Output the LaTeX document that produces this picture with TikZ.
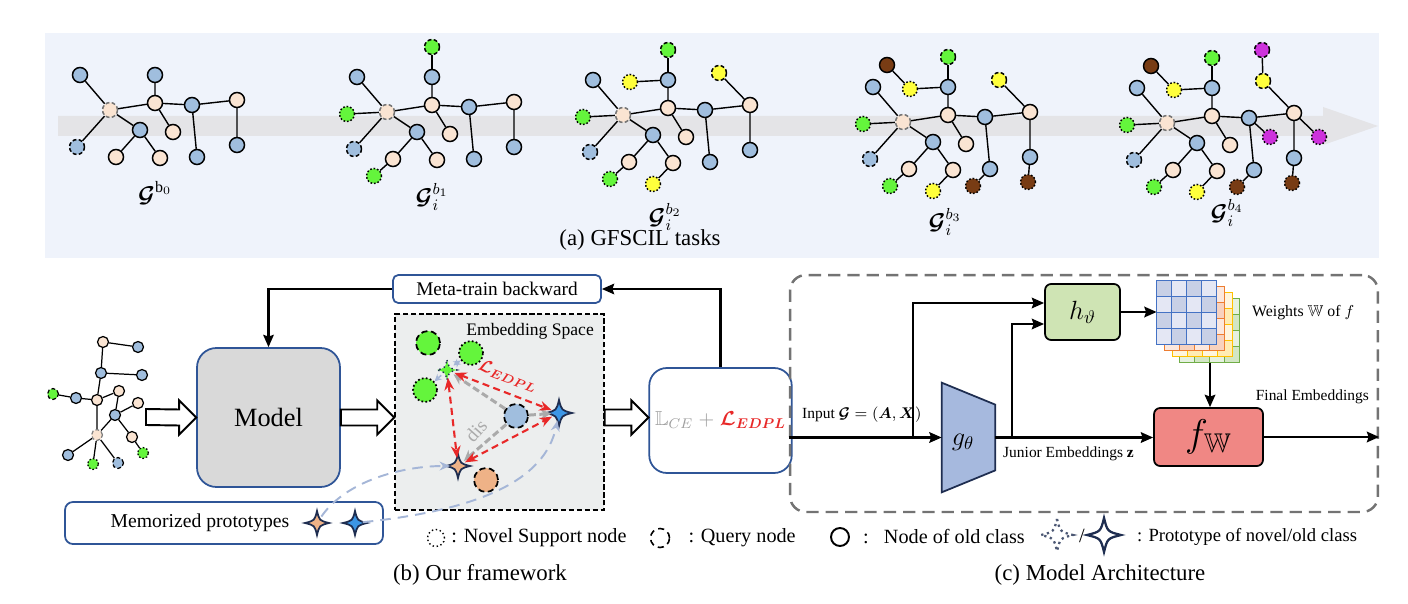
\RequirePackage{fix-cm}
\documentclass[tikz,border=0pt]{standalone}
\usepackage{amsmath,amssymb,bm}
\usepackage{fontspec}
\setmainfont{Liberation Serif}
\usetikzlibrary{calc,arrows.meta}

\definecolor{nodeblue}{RGB}{160,190,222}
\definecolor{nodepeach}{RGB}{250,228,210}
\definecolor{novgreen}{RGB}{100,245,60}
\definecolor{novyellow}{RGB}{255,255,60}
\definecolor{novbrown}{RGB}{120,60,20}
\definecolor{novpurple}{RGB}{205,50,220}
\definecolor{panelbg}{RGB}{239,243,251}
\definecolor{bandgray}{RGB}{228,228,231}
\definecolor{boxblue}{RGB}{47,85,151}
\definecolor{modelgray}{RGB}{217,217,217}
\definecolor{embgray}{RGB}{236,238,238}
\definecolor{edplred}{RGB}{232,40,40}
\definecolor{disgray}{RGB}{170,170,170}
\definecolor{memblue}{RGB}{165,182,215}
\definecolor{gblue}{RGB}{166,185,222}
\definecolor{hgreen}{RGB}{207,228,180}
\definecolor{fred}{RGB}{240,135,132}
\definecolor{protopeach}{RGB}{238,178,135}
\definecolor{protoblue}{RGB}{60,150,230}
\definecolor{protonavy}{RGB}{30,45,80}
\definecolor{wbline}{RGB}{68,114,196}
\definecolor{wbdark}{RGB}{200,208,230}
\definecolor{wblight}{RGB}{228,231,244}
\definecolor{woline}{RGB}{237,125,49}
\definecolor{wodark}{RGB}{248,210,190}
\definecolor{wolight}{RGB}{252,232,222}
\definecolor{wyline}{RGB}{255,192,0}
\definecolor{wydark}{RGB}{255,236,180}
\definecolor{wylight}{RGB}{255,245,222}
\definecolor{wgline}{RGB}{112,173,71}
\definecolor{wgdark}{RGB}{210,230,196}
\definecolor{wglight}{RGB}{230,241,224}

\tikzset{
  gnode/.style={circle, draw=black, line width=0.85pt, inner sep=0pt, minimum size=0.3cm},
  snode/.style={gnode, line width=0.7pt, minimum size=0.22cm},
  embc/.style={circle, draw=black, line width=1pt, inner sep=0pt, minimum size=0.48cm},
  proto/.style={circle, inner sep=0pt, minimum size=0.3cm},
  sup/.style={dash pattern=on 0.9pt off 1.1pt},
  qry/.style={dash pattern=on 2.2pt off 1.3pt},
  embs/.style={dash pattern=on 1pt off 1.3pt},
  embq/.style={dash pattern=on 3.5pt off 2pt},
  gedge/.style={line width=0.8pt},
  bluebox/.style={draw=boxblue, line width=1pt, fill=white},
  thinarr/.style={draw=memblue, line width=0.9pt, >={Stealth[length=4pt,width=4pt]}},
  grayarr/.style={draw=disgray, line width=1.7pt, dash pattern=on 4pt off 2pt, >={Stealth[length=6pt,width=6pt]}},
  redarr/.style={draw=edplred, line width=1.2pt, dash pattern=on 4pt off 2.5pt, >={Stealth[length=7pt,width=5.5pt]}},
  memarr/.style={draw=memblue, line width=1.1pt, dash pattern=on 6pt off 4pt, >={Stealth[length=6pt,width=5pt]}},
  archarr/.style={line width=1.4pt},
  glabel/.style={font=\fontsize{13}{15}\selectfont},
  lgd/.style={font=\fontsize{11.5}{13}\selectfont},
  capt/.style={font=\fontsize{13}{15}\selectfont}
}

\newcommand{\basegraph}[1]{%
  \node[gnode, fill=nodepeach, qry, draw=black!55] (#1c) at (0,0) {};
  \node[gnode, fill=nodeblue] (#1A) at (-30,-35) {};
  \node[gnode, fill=nodeblue] (#1B) at (45,-35) {};
  \node[gnode, fill=nodepeach] (#1C) at (45,-7) {};
  \node[gnode, fill=nodeblue] (#1D) at (82,-5) {};
  \node[gnode, fill=nodepeach] (#1E) at (127,-10) {};
  \node[gnode, fill=nodeblue] (#1F) at (30,20) {};
  \node[gnode, fill=nodepeach] (#1G) at (63,22) {};
  \node[gnode, fill=nodeblue, qry] (#1H) at (-33,37) {};
  \node[gnode, fill=nodepeach] (#1I) at (6,47) {};
  \node[gnode, fill=nodepeach] (#1J) at (50,48) {};
  \node[gnode, fill=nodeblue] (#1K) at (87,47) {};
  \node[gnode, fill=nodeblue] (#1L) at (127,35) {};
  \draw[gedge] (#1c)--(#1A) (#1c)--(#1C) (#1c)--(#1F) (#1c)--(#1H) (#1B)--(#1C) (#1C)--(#1D)
    (#1C)--(#1G) (#1D)--(#1E) (#1D)--(#1K) (#1E)--(#1L) (#1F)--(#1I) (#1F)--(#1J);
}
\newcommand{\leaf}[4]{\node[gnode, #1] (#2) at (#3) {}; \draw[gedge] (#2) -- (#4);}
\newcommand{\protostar}[3]{%
  \draw[#3, shift={(#1)}] (0,-#2) .. controls (0.2*#2,-0.2*#2) .. (#2,0) .. controls (0.2*#2,0.2*#2) .. (0,#2)
    .. controls (-0.2*#2,0.2*#2) .. (-#2,0) .. controls (-0.2*#2,-0.2*#2) .. (0,-#2) -- cycle;}
\newcommand{\hollowarrow}[2]{%
  \draw[line width=1.1pt, fill=white] ($(#1)+(0,-8)$) -- ($(#2)+(-17,-8)$) -- ($(#2)+(-17,-17)$) -- (#2)
    -- ($(#2)+(-17,17)$) -- ($(#2)+(-17,8)$) -- ($(#1)+(0,8)$) -- cycle;}
\newcommand{\wgrid}[5]{%
  \node[minimum width=1.2cm, minimum height=1.28cm, inner sep=0pt] (#1) at (#2) {};
  \foreach \i in {0,...,3} \foreach \j in {0,...,3} {
    \pgfmathtruncatemacro\k{mod(\i+\j,2)}
    \ifnum\k=0 \def\cellc{#4}\else\def\cellc{#5}\fi
    \filldraw[fill=\cellc, draw=#3, line width=0.9pt] ($(#1.north west)+(15*\i,16*\j)$) rectangle +(15,16);
  }
}

\begin{document}
\begin{tikzpicture}[x=0.02cm, y=-0.02cm, >={Stealth[length=7pt,width=6pt,inset=1pt]}]
\useasboundingbox (0,0) rectangle (1408,604);

\fill[panelbg] (45,33) rectangle (1379,258);
\fill[bandgray] (58,116) -- (1323,116) -- (1323,107) -- (1378,126) -- (1323,145) -- (1323,136) -- (58,136) -- cycle;

\begin{scope}[shift={(110,110)}]
  \basegraph{a}
  \node[glabel] (alab) at (45,83) {$\boldsymbol{\mathcal{G}}^{\mathrm{b}_0}$};
\end{scope}

\begin{scope}[shift={(387,112)}]
  \basegraph{b}
  \leaf{fill=novgreen, qry}{bq1}{45,-65}{bB}
  \leaf{fill=novgreen, sup}{bs1}{-40,2}{bc}
  \leaf{fill=novgreen, sup}{bs2}{-13,64}{bI}
  \node[glabel] (blab) at (45,85) {$\boldsymbol{\mathcal{G}}_i^{b_1}$};
\end{scope}

\begin{scope}[shift={(623,115)}]
  \basegraph{c}
  \leaf{fill=novgreen, qry}{cq1}{45,-65}{cB}
  \leaf{fill=novgreen, sup}{cs1}{-40,2}{cc}
  \leaf{fill=novgreen, sup}{cs2}{-13,64}{cI}
  \leaf{fill=novyellow, sup}{cs3}{7,-33}{cB}
  \leaf{fill=novyellow, qry}{cq2}{96,-42}{cE}
  \leaf{fill=novyellow, sup}{cs4}{30,69}{cJ}
  \node[glabel] (clab) at (42,102) {$\boldsymbol{\mathcal{G}}_i^{b_2}$};
\end{scope}

\begin{scope}[shift={(903,122)}]
  \basegraph{d}
  \leaf{fill=novgreen, qry}{dq1}{45,-65}{dB}
  \leaf{fill=novgreen, sup}{ds1}{-40,2}{dc}
  \leaf{fill=novgreen, sup}{ds2}{-13,64}{dI}
  \leaf{fill=novyellow, sup}{ds3}{7,-33}{dB}
  \leaf{fill=novyellow, qry}{dq2}{96,-42}{dE}
  \leaf{fill=novyellow, sup}{ds4}{30,69}{dJ}
  \leaf{fill=novbrown}{dq3}{-16,-57}{ds3}
  \leaf{fill=novbrown, sup}{ds5}{70,64}{dK}
  \leaf{fill=novbrown, sup}{ds6}{125,60}{dL}
  \node[glabel] (dlab) at (42,100) {$\boldsymbol{\mathcal{G}}_i^{b_3}$};
\end{scope}

\begin{scope}[shift={(1167,123)}]
  \basegraph{e}
  \leaf{fill=novgreen, qry}{eq1}{45,-65}{eB}
  \leaf{fill=novgreen, sup}{es1}{-40,2}{ec}
  \leaf{fill=novgreen, sup}{es2}{-13,64}{eI}
  \leaf{fill=novyellow, sup}{es3}{7,-33}{eB}
  \leaf{fill=novyellow, qry}{eq2}{96,-42}{eE}
  \leaf{fill=novyellow, sup}{es4}{30,69}{eJ}
  \leaf{fill=novbrown}{eq3}{-16,-57}{es3}
  \leaf{fill=novbrown, sup}{es5}{70,64}{eK}
  \leaf{fill=novbrown, sup}{es6}{125,60}{eL}
  \leaf{fill=novpurple, qry}{eq4}{95,-73}{eq2}
  \leaf{fill=novpurple, sup}{es7}{103,14}{eD}
  \leaf{fill=novpurple, sup}{es8}{152,14}{eE}
  \node[glabel] (elab) at (60,90) {$\boldsymbol{\mathcal{G}}_i^{b_4}$};
\end{scope}

\node[capt] (capa) at (640,240) {(a) GFSCIL tasks};

\node[snode, fill=nodepeach] (sp1) at (103,342) {};
\node[snode, fill=nodeblue] (sb1) at (138,347) {};
\node[snode, fill=nodeblue] (sb2) at (101,373) {};
\node[snode, fill=nodeblue] (sb3) at (142,375) {};
\node[snode, fill=novgreen, qry] (sg1) at (53,394) {};
\node[snode, fill=nodeblue] (sb4) at (76,398) {};
\node[snode, fill=nodepeach] (sp2) at (97,400) {};
\node[snode, fill=nodepeach] (sp3) at (119,391) {};
\node[snode, fill=nodepeach] (sp4) at (138,403) {};
\node[snode, fill=nodeblue] (sb5) at (115,415) {};
\node[snode, fill=nodepeach] (sp5) at (132,437) {};
\node[snode, fill=novgreen, sup] (sg2) at (143,453) {};
\node[snode, fill=nodepeach, qry, draw=black!50] (sp6) at (97,435) {};
\node[snode, fill=nodeblue] (sb6) at (68,455) {};
\node[snode, fill=novgreen, sup] (sg3) at (93,464) {};
\node[snode, fill=nodeblue, qry] (sb7) at (118,463) {};
\draw[line width=0.7pt] (sp1)--(sb1) (sp1)--(sb2) (sb2)--(sb3) (sb2)--(sp2) (sg1)--(sb4) (sb4)--(sp2) (sp2)--(sp3)
  (sp2)--(sp6) (sp3)--(sb5) (sb5)--(sp4) (sb5)--(sp5) (sp5)--(sg2) (sb5)--(sp6) (sp6)--(sb6) (sp6)--(sg3) (sp6)--(sb7);

\node[bluebox, fill=modelgray, rounded corners=11pt, minimum width=2.86cm, minimum height=2.78cm,
  font=\fontsize{15}{18}\selectfont] (model) at (268.5,417.5) {Model};
\node[bluebox, rounded corners=3pt, minimum width=4.16cm, minimum height=0.56cm,
  font=\fontsize{11}{13}\selectfont] (meta) at (497,289) {Meta-train backward};
\node[draw, line width=0.9pt, dash pattern=on 3pt off 1.5pt, fill=embgray, minimum width=4.18cm,
  minimum height=3.92cm] (emb) at (499.5,412) {};
\node[anchor=east, font=\fontsize{10}{12}\selectfont] (embt) at (600,331) {Embedding Space};
\node[bluebox, rounded corners=10pt, minimum width=2.5cm, minimum height=2.1cm, font=\fontsize{11.5}{13}\selectfont]
  (loss) at (720.5,420.5) {$\textcolor{gray!75}{\mathbb{L}_{CE}\;{+}\;}\textcolor{edplred}{\boldsymbol{\mathcal{L}_{EDPL}}}$};
\node[bluebox, rounded corners=4.5pt, minimum width=6.36cm, minimum height=0.84cm] (mem) at (224,523) {};
\node[font=\fontsize{11.2}{13}\selectfont] (memt) at (200,523) {Memorized prototypes};

\draw[line width=1.2pt, ->] (meta.west) -| (model.north);
\draw[line width=1.2pt, ->] (loss.north) |- (meta.east);
\coordinate (sgout) at (146,417);
\coordinate (embin) at (emb.west |- model.east);
\coordinate (embout) at (emb.east |- model.east);
\coordinate (lossin) at (loss.west |- model.east);
\hollowarrow{sgout}{model.west}
\hollowarrow{model.east}{embin}
\hollowarrow{embout}{lossin}

\node[embc, fill=novgreen, embq] (gq) at (428,343) {};
\node[embc, fill=novgreen, embs] (gs1) at (471,353) {};
\node[embc, fill=novgreen, embs] (gs2) at (425,390) {};
\node[embc, fill=nodeblue, embq] (bq) at (516,416) {};
\node[embc, fill=protopeach, embq] (pq) at (486,480) {};
\node[proto] (gstar) at (447,370) {};
\node[proto] (bstar) at (559,413) {};
\node[proto] (pstar) at (458,466) {};
\node[proto] (mpstar) at (317,523) {};
\node[proto] (mbstar) at (355,523) {};
\protostar{gstar}{10}{fill=novgreen, draw=protonavy, dotted, line width=0.8pt}
\protostar{bstar}{13}{fill=protoblue, draw=protonavy, line width=1pt}
\protostar{pstar}{12}{fill=protopeach, draw=protonavy, line width=1pt}
\protostar{mpstar}{12}{fill=protopeach, draw=protonavy, line width=1pt}
\protostar{mbstar}{12}{fill=protoblue, draw=protonavy, line width=1pt}

\draw[thinarr, <->] (gstar) -- (gs1);
\draw[thinarr, ->] (gstar) -- (gs2);
\draw[grayarr, ->] (bq) -- (gstar);
\draw[grayarr, ->] (bq) -- (bstar);
\draw[grayarr, ->] (bq) -- (pstar);
\node[rotate=48, text=disgray, font=\fontsize{11}{13}\selectfont] (dis) at (476,431) {dis};
\draw[redarr, <->] (gstar) -- (bstar);
\draw[redarr, <->] (gstar) -- (pstar);
\draw[redarr, <->] (pstar) -- (bstar);
\node[rotate=-21, text=edplred, font=\fontsize{10}{12}\selectfont] (edpl) at (508,376) {$\boldsymbol{\mathcal{L}_{EDPL}}$};
\draw[memarr, ->] (mpstar) .. controls (345,482) and (400,466) .. (pstar);
\draw[memarr, ->] (mbstar) .. controls (480,510) and (545,480) .. (bstar);

\node[circle, draw, line width=0.8pt, dash pattern=on 0.8pt off 1.5pt, minimum size=0.34cm] (lsup) at (436,538) {};
\node[lgd, anchor=west] (lsupt) at (lsup.east) {: Novel Support node};
\node[circle, draw, line width=0.9pt, dash pattern=on 3.5pt off 2.5pt, minimum size=0.38cm] (lqry) at (660,538) {};
\node[lgd, anchor=west] (lqryt) at ($(lqry.east)+(12,0)$) {: Query node};
\node[circle, draw, line width=1.1pt, minimum size=0.36cm] (lold) at (840,537) {};
\node[lgd, anchor=west] (loldt) at ($(lold.east)+(7,0)$) {:\enspace\ Node of old class};
\node[proto] (lnov) at (1057,535) {};
\node[proto] (lolds) at (1104,535) {};
\protostar{lnov}{16}{fill=white, draw=protonavy!80, dotted, line width=1.3pt}
\protostar{lolds}{17}{fill=white, draw=protonavy, line width=1.3pt}
\node[lgd] (lslash) at (1082,536) {/};
\node[font=\fontsize{10.6}{12}\selectfont, anchor=west] (loldst) at (1131,537) {: Prototype of novel/old class};

\node[capt] (capb) at (480,575) {(b) Our framework};
\node[capt] (capc) at (1100,575) {(c) Model Architecture};

\node[draw=black!55, line width=1.4pt, dash pattern=on 7pt off 4pt, rounded corners=9pt, minimum width=11.76cm,
  minimum height=4.74cm] (arch) at (1084,393.5) {};
\node[minimum width=1.06cm, minimum height=2.18cm, inner sep=0pt] (g) at (968.5,437.5) {};
\draw[fill=gblue, draw=protonavy, line width=1pt] (g.north west) -- ($(g.north east)+(0,22)$)
  -- ($(g.south east)+(0,-22)$) -- (g.south west) -- cycle;
\node[font=\fontsize{15}{18}\selectfont] (gt) at (963,442) {$g_\theta$};
\node[draw, line width=1pt, rounded corners=3.5pt, fill=hgreen, minimum width=1.5cm, minimum height=1.12cm,
  font=\fontsize{15}{18}\selectfont] (h) at (1082.5,312) {$h_\vartheta$};
\node[draw, line width=1pt, rounded corners=3.5pt, fill=fred, minimum width=2.18cm, minimum height=1.16cm,
  font=\fontsize{22}{26}\selectfont] (f) at (1208.5,437) {$f_{\mathbb{W}}$};
\wgrid{wg}{1210,331}{wgline}{wgdark}{wglight}
\wgrid{wy}{1203,325}{wyline}{wydark}{wylight}
\wgrid{wo}{1195,319}{woline}{wodark}{wolight}
\wgrid{wb}{1187,313}{wbline}{wbdark}{wblight}

\coordinate (inp) at (arch.west |- g.west);
\coordinate (br1) at (913,437.5);
\coordinate (br2) at (1012,437.5);
\draw[archarr, ->] (inp) -- (g.west);
\draw[archarr, ->] (br1) |- ($(h.west)+(0,-9)$);
\draw[archarr, ->] (br2) |- ($(h.west)+(0,12)$);
\draw[archarr, ->] (g.east) -- (g.east -| f.west);
\draw[archarr, ->] (h.east) -- (h.east -| wb.west);
\draw[archarr, ->] (wg.south) -- (wg.south |- f.north);
\draw[archarr, ->] (f.east) -- (f.east -| arch.east);
\node[anchor=south west, font=\fontsize{8.8}{10}\selectfont] (inpt) at (796,429) {Input $\boldsymbol{\mathcal{G}}=(\boldsymbol{A},\boldsymbol{X})$};
\node[anchor=north west, font=\fontsize{8.8}{10}\selectfont] (junt) at (997,441) {Junior Embeddings $\mathbf{z}$};
\node[anchor=west, font=\fontsize{9}{11}\selectfont] (wt) at (1246,313) {Weights $\mathbb{W}$ of $f$};
\node[anchor=south east, font=\fontsize{8.8}{10}\selectfont] (fint) at (1375,410) {Final Embeddings};
\end{tikzpicture}
\end{document}
